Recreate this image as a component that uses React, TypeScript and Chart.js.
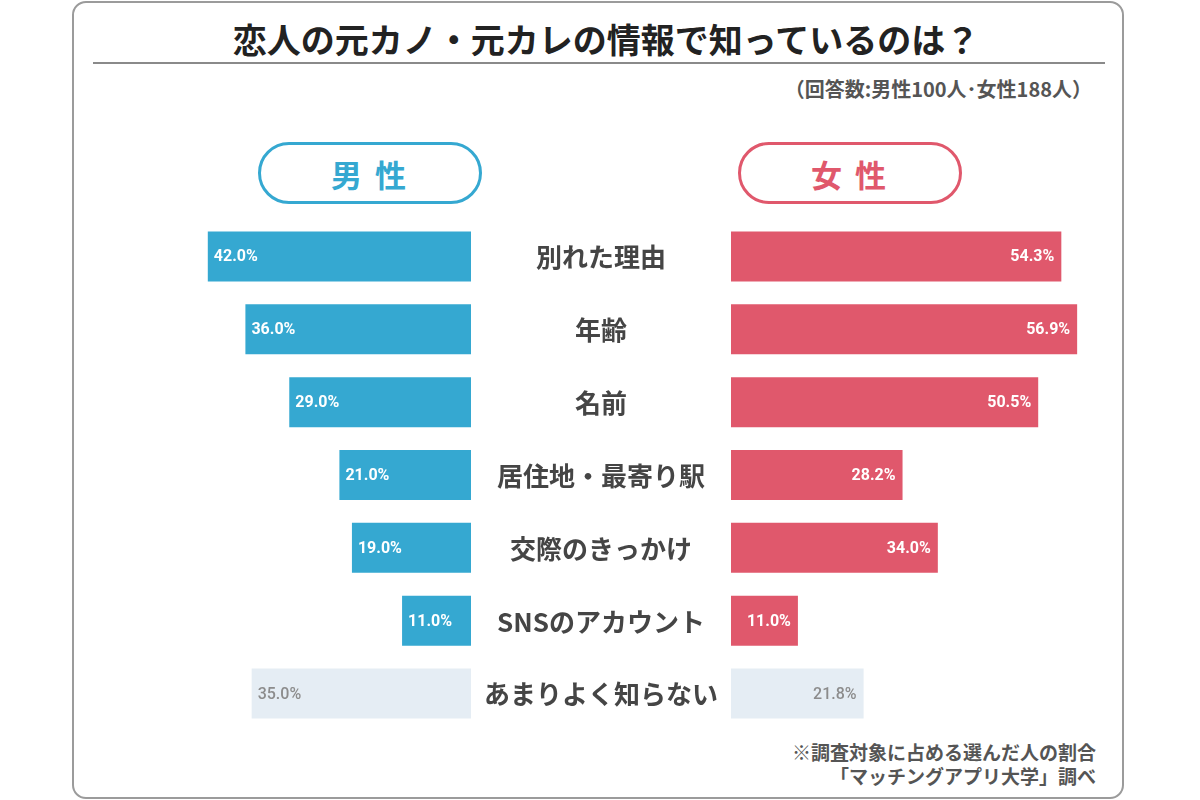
import React, { useEffect, useRef } from "react";
import { Chart, registerables } from "chart.js";

Chart.register(...registerables);

// ---- data ----
const categories = [
  "別れた理由",
  "年齢",
  "名前",
  "居住地・最寄り駅",
  "交際のきっかけ",
  "SNSのアカウント",
  "あまりよく知らない",
];
const maleValues = [42.0, 36.0, 29.0, 21.0, 19.0, 11.0, 35.0];
const femaleValues = [54.3, 56.9, 50.5, 28.2, 34.0, 11.0, 21.8];
const axisMax = 60;

const titleText = "恋人の元カノ・元カレの情報で知っているのは？";
const subtitleText = "（回答数:男性100人･女性188人）";
const footnoteLines = ["※調査対象に占める選んだ人の割合", "「マッチングアプリ大学」調べ"];
const maleLabel = "男 性";
const femaleLabel = "女 性";

// ---- styles ----
const BLUE = "#35a8d1";
const RED = "#e0586c";
const PALE = "#e5edf4";
const CJK = '"Noto Sans CJK JP", "Noto Sans", sans-serif';

const isPale = (i: number) => i === categories.length - 1;

const valueLabelPlugin = (side: "left" | "right") => ({
  id: "valueLabels_" + side,
  afterDatasetsDraw(chart: any) {
    const ctx = chart.ctx;
    const meta = chart.getDatasetMeta(0);
    const data = chart.data.datasets[0].data as number[];
    ctx.save();
    ctx.textBaseline = "middle";
    meta.data.forEach((el: any, i: number) => {
      const pale = isPale(i);
      ctx.font = `${pale ? 500 : 700} 16px Roboto, sans-serif`;
      ctx.fillStyle = pale ? "#8c8c8c" : "#ffffff";
      const txt = data[i].toFixed(1) + "%";
      if (side === "left") {
        ctx.textAlign = "left";
        ctx.fillText(txt, el.x + 6, el.y + 1);
      } else {
        ctx.textAlign = "right";
        ctx.fillText(txt, el.x - 7, el.y + 1);
      }
    });
    ctx.restore();
  },
});

const categoryLabelPlugin = {
  id: "categoryLabels",
  afterDraw(chart: any) {
    const ctx = chart.ctx;
    const yScale = chart.scales.y;
    const cx = chart.chartArea.left / 2;
    ctx.save();
    ctx.font = `700 26px ${CJK}`;
    ctx.fillStyle = "#454545";
    ctx.textAlign = "center";
    ctx.textBaseline = "middle";
    (chart.data.labels as string[]).forEach((lab, i) => {
      ctx.fillText(lab, cx, yScale.getPixelForValue(i) + 1);
    });
    ctx.restore();
  },
};

function BarSide({ side }: { side: "left" | "right" }) {
  const ref = useRef<HTMLCanvasElement | null>(null);
  useEffect(() => {
    if (!ref.current) return;
    const values = side === "left" ? maleValues : femaleValues;
    const main = side === "left" ? BLUE : RED;
    const colors = values.map((_, i) => (isPale(i) ? PALE : main));
    const chart = new Chart(ref.current, {
      type: "bar",
      data: {
        labels: categories,
        datasets: [
          {
            data: values,
            backgroundColor: colors,
            borderWidth: 0,
            barPercentage: 0.686,
            categoryPercentage: 1,
          },
        ],
      },
      options: {
        indexAxis: "y",
        responsive: false,
        animation: false,
        layout: { padding: 0 },
        plugins: { legend: { display: false }, tooltip: { enabled: false } },
        scales: {
          x: {
            display: false,
            min: 0,
            max: axisMax,
            reverse: side === "left",
          },
          y:
            side === "left"
              ? { display: false }
              : {
                  display: true,
                  grid: { display: false },
                  border: { display: false },
                  ticks: { display: false },
                  afterFit: (s: any) => {
                    s.width = 260;
                  },
                },
        },
      },
      plugins: side === "left" ? [valueLabelPlugin("left")] : [valueLabelPlugin("right"), categoryLabelPlugin],
    } as any);
    return () => chart.destroy();
  }, [side]);
  const w = side === "left" ? 376 : 625;
  return (
    <canvas
      ref={ref}
      width={w}
      height={510}
      style={{ position: "absolute", left: side === "left" ? 95 : 471, top: 220, width: w, height: 510 }}
    />
  );
}

function Pill({ left, color, text }: { left: number; color: string; text: string }) {
  return (
    <div
      style={{
        position: "absolute",
        left,
        top: 142,
        width: 224,
        height: 62,
        boxSizing: "border-box",
        border: `3px solid ${color}`,
        borderRadius: 31,
        color,
        font: `700 31px ${CJK}`,
        display: "flex",
        alignItems: "center",
        justifyContent: "center",
        letterSpacing: 3,
        background: "#fff",
      }}
    >
      {text}
    </div>
  );
}

export default function App() {
  return (
    <div
      style={{
        position: "fixed",
        left: 0,
        top: 0,
        width: 1200,
        height: 800,
        background: "#ffffff",
        overflow: "hidden",
      }}
    >
      <div
        style={{
          position: "absolute",
          left: 72,
          top: 1,
          width: 1052,
          height: 798,
          boxSizing: "border-box",
          border: "2px solid #9b9b9b",
          borderRadius: 14,
        }}
      />
      <div
        style={{
          position: "absolute",
          left: 606,
          top: 21,
          transform: "translateX(-50%)",
          whiteSpace: "nowrap",
          font: `700 34px/36px ${CJK}`,
          color: "#222",
        }}
      >
        {titleText}
      </div>
      <div style={{ position: "absolute", left: 93, top: 62, width: 1012, height: 2, background: "#8a8a8a" }} />
      <div
        style={{
          position: "absolute",
          right: 1200 - 1092,
          top: 78,
          whiteSpace: "nowrap",
          font: `700 20px/22px ${CJK}`,
          color: "#555",
        }}
      >
        {subtitleText}
      </div>
      <Pill left={258} color={BLUE} text={maleLabel} />
      <Pill left={738} color={RED} text={femaleLabel} />
      <BarSide side="left" />
      <BarSide side="right" />
      <div
        style={{
          position: "absolute",
          right: 1200 - 1096,
          top: 740,
          textAlign: "right",
          whiteSpace: "nowrap",
          font: `700 19px/24px ${CJK}`,
          color: "#555",
        }}
      >
        {footnoteLines.map((l, i) => (
          <div key={i}>{l}</div>
        ))}
      </div>
    </div>
  );
}
